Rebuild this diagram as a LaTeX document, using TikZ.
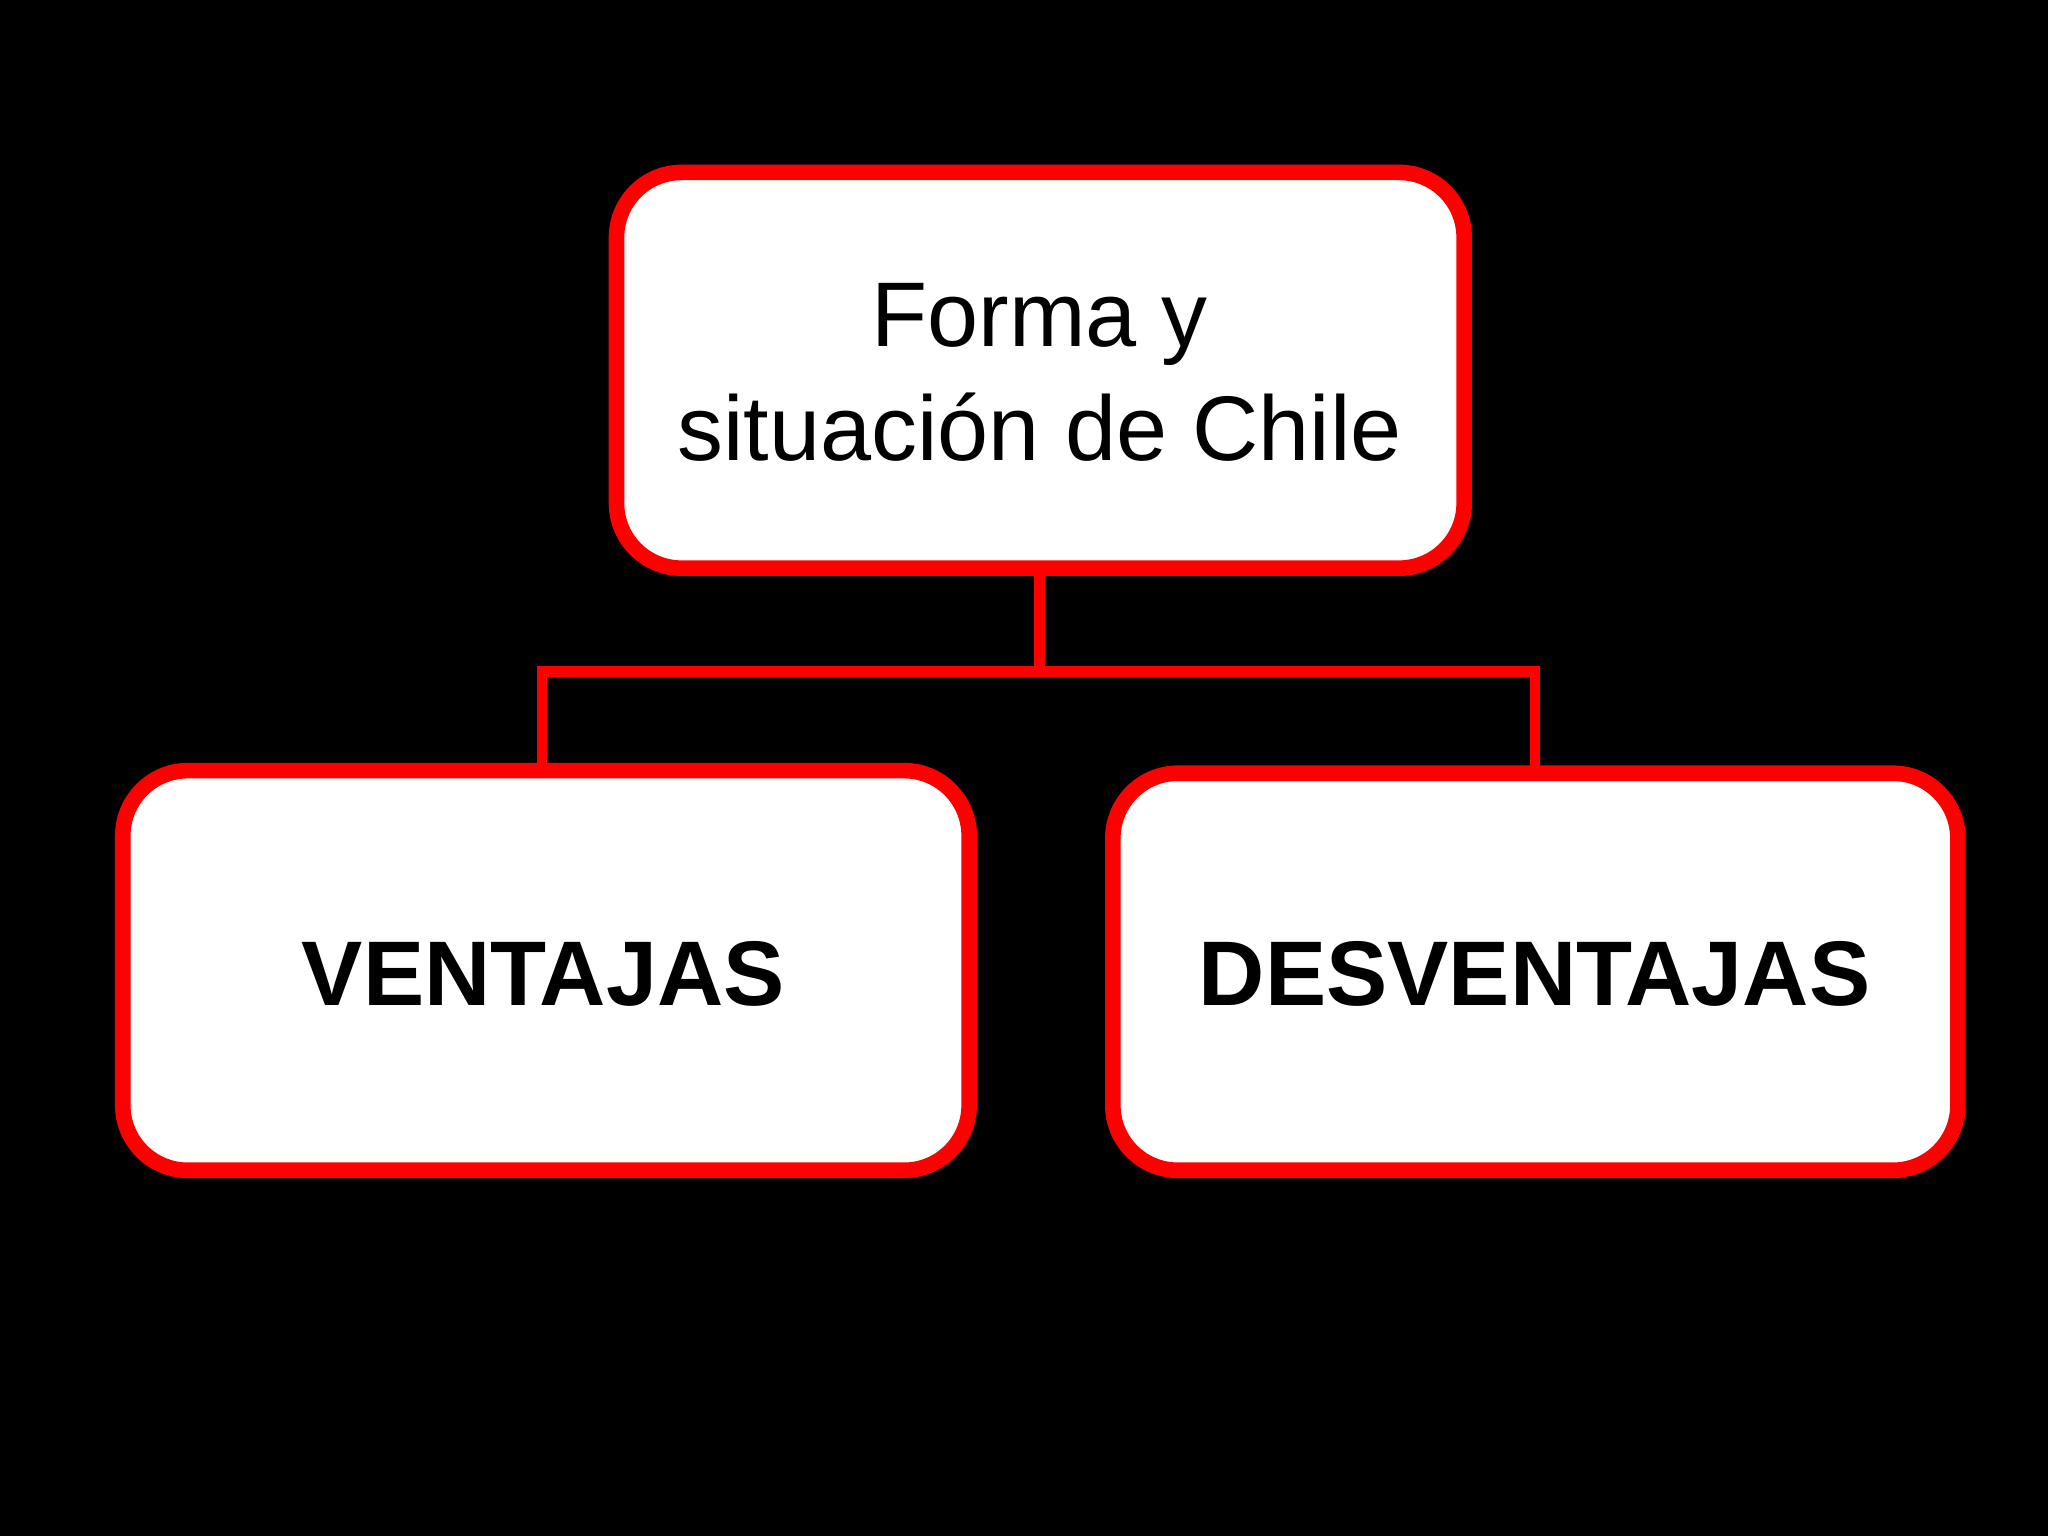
\documentclass[tikz,border=0pt]{standalone}
\usepackage{fontspec}
\setmainfont{Liberation Sans}
\begin{document}
\begin{tikzpicture}[x=0.02cm,y=-0.02cm,
 box/.style={draw=red,fill=white,line width=12*0.567pt,rounded corners=50*0.567pt},
 conn/.style={draw=red,line width=8*0.567pt}]
\fill[black] (0,0) rectangle (1568,1176);
\useasboundingbox (0,0) rectangle (1568,1176);
\draw[conn] (796,435) -- (796,514);
\draw[conn] (415,590) -- (415,514) -- (1175,514) -- (1175,592);
\draw[box] (472,132) rectangle (1121,435);
\draw[box] (94,590) rectangle (742,896);
\draw[box] (852,592) rectangle (1499,896);
\node (top) at (796,285) [align=center,font=\fontsize{40}{50}\selectfont] {Forma y\\situación de Chile};
\node (v) at (416,746) [font=\fontsize{40}{48}\selectfont\bfseries] {VENTAJAS};
\node (d) at (1175,746) [font=\fontsize{40}{48}\selectfont\bfseries] {DESVENTAJAS};
\end{tikzpicture}
\end{document}
